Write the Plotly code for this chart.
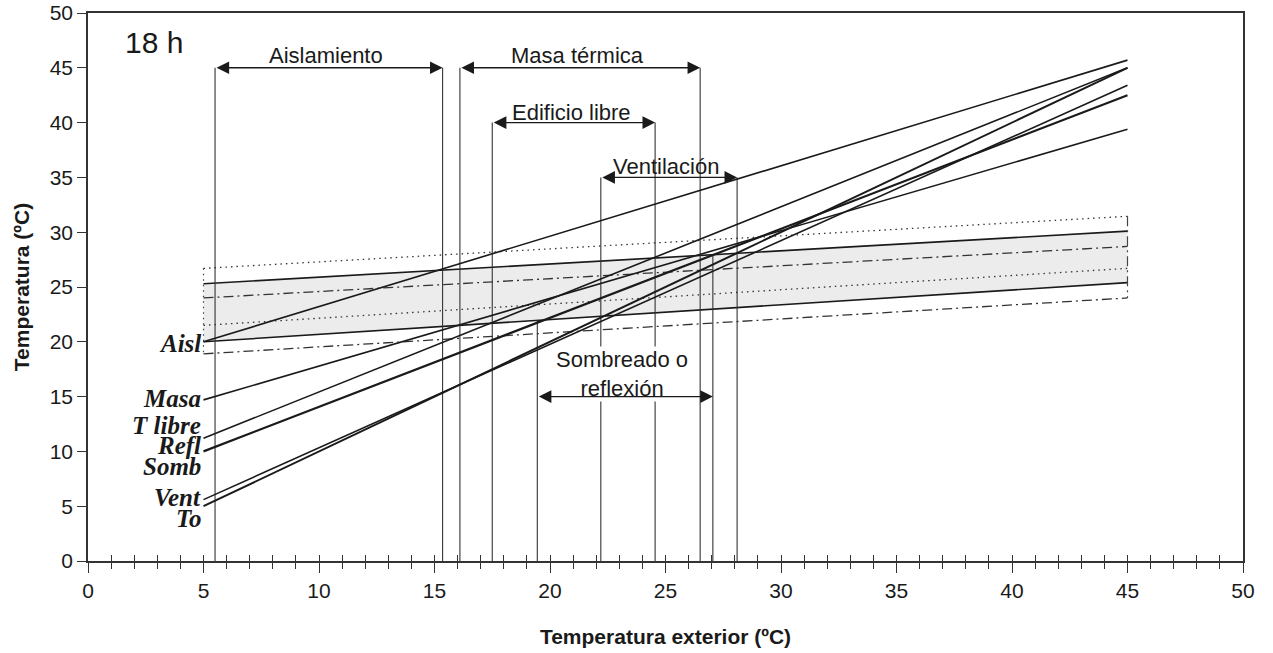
import plotly.graph_objects as go

# ---------------- data ----------------
x_ends = [5, 45]

strategy_names = ["Aisl", "Masa", "T libre", "Refl", "Vent", "To"]
strategy_y_start = [20.0, 14.7, 11.2, 10.0, 5.6, 5.0]
strategy_y_end = [45.7, 39.4, 45.0, 42.5, 43.4, 45.0]

side_labels = ["Aisl", "Masa", "T libre", "Refl", "Somb", "Vent", "To"]
side_label_y = [19.85, 14.85, 12.4, 10.55, 8.65, 5.75, 3.85]

upper_solid = [25.3, 30.1]
lower_solid = [20.0, 25.4]
upper_dot = [26.7, 31.45]
lower_dot = [21.5, 26.7]
upper_dashdot = [24.0, 28.7]
lower_dashdot = [18.9, 24.0]

range_names = ["Aislamiento", "Masa térmica", "Edificio libre", "Ventilación", "Sombreado o<br>reflexión"]
range_lo = [5.5, 16.1, 17.5, 22.2, 19.45]
range_hi = [15.35, 26.5, 24.55, 28.1, 27.05]
arrow_y = [45, 45, 40, 35, 15]
vline_top_lo = [45, 45, 40, 35, 22.0]
vline_top_hi = [45, 45, 40, 35, 27.9]
range_label_x = [10.3, 21.2, 20.95, 25.0, 23.1]
range_label_y = [46.15, 46.15, 40.9, 36.0, 17.1]

title_text = "18 h"
x_ticks = list(range(0, 51, 5))
y_ticks = list(range(0, 51, 5))

# ---------------- figure ----------------
fig = go.Figure()
INK = "#1a1a1a"
DOT = "1.5px,4px"
DASHDOT = "10px,4px,2px,4px"

# comfort band fill
fig.add_trace(go.Scatter(x=x_ends, y=lower_solid, mode="lines",
                         line=dict(color=INK, width=1.6), hoverinfo="skip", showlegend=False))
fig.add_trace(go.Scatter(x=x_ends, y=upper_solid, mode="lines", fill="tonexty",
                         fillcolor="#ececec",
                         line=dict(color=INK, width=1.6), hoverinfo="skip", showlegend=False))
for ys, dash in [(upper_dot, DOT), (lower_dot, DOT),
                 (upper_dashdot, DASHDOT), (lower_dashdot, DASHDOT)]:
    fig.add_trace(go.Scatter(x=x_ends, y=ys, mode="lines",
                             line=dict(color="#333333", width=1.3, dash=dash),
                             hoverinfo="skip", showlegend=False))
# band end closures
fig.add_trace(go.Scatter(x=[x_ends[0], x_ends[0]], y=[upper_dot[0], lower_dashdot[0]], mode="lines",
                         line=dict(color="#444444", width=1.2, dash=DOT),
                         hoverinfo="skip", showlegend=False))
fig.add_trace(go.Scatter(x=[x_ends[1], x_ends[1]], y=[upper_dot[1], lower_dashdot[1]], mode="lines",
                         line=dict(color="#444444", width=1.2, dash=DASHDOT),
                         hoverinfo="skip", showlegend=False))

# vertical range markers
for lo, hi, tlo, thi in zip(range_lo, range_hi, vline_top_lo, vline_top_hi):
    fig.add_trace(go.Scatter(x=[lo, lo], y=[0, tlo], mode="lines",
                             line=dict(color="#333333", width=1.1), hoverinfo="skip", showlegend=False))
    fig.add_trace(go.Scatter(x=[hi, hi], y=[0, thi], mode="lines",
                             line=dict(color="#333333", width=1.1), hoverinfo="skip", showlegend=False))

# strategy lines
widths = {"Refl": 2.2, "To": 2.0}
for name, y0, y1 in zip(strategy_names, strategy_y_start, strategy_y_end):
    fig.add_trace(go.Scatter(x=x_ends, y=[y0, y1], mode="lines", name=name,
                             line=dict(color=INK, width=widths.get(name, 1.6)),
                             hoverinfo="skip", showlegend=False))

# dummy trace for inner-tick axis
fig.add_trace(go.Scatter(x=[None], y=[None], xaxis="x2", yaxis="y", mode="lines",
                         hoverinfo="skip", showlegend=False))

# range labels (first) then arrows on top
for name, lx, ly in zip(range_names, range_label_x, range_label_y):
    is_multi = "<br>" in name
    fig.add_annotation(x=lx, y=ly, xref="x", yref="y", text=name, showarrow=False,
                       font=dict(family="Liberation Sans, Arial", size=22, color=INK),
                       bgcolor="white" if is_multi else "rgba(0,0,0,0)",
                       borderpad=0, yanchor="middle", xanchor="center")
for lo, hi, ay in zip(range_lo, range_hi, arrow_y):
    fig.add_annotation(x=hi, y=ay, ax=lo, ay=ay, xref="x", yref="y", axref="x", ayref="y",
                       text="", showarrow=True, arrowhead=2, arrowside="end+start",
                       arrowsize=1.8, arrowwidth=1.4, arrowcolor=INK, standoff=0, startstandoff=0)

# side labels
for lab, ly in zip(side_labels, side_label_y):
    fig.add_annotation(x=x_ends[0], y=ly, xref="x", yref="y", text="<b><i>%s</i></b>" % lab,
                       showarrow=False, xanchor="right", yanchor="middle", xshift=-1,
                       font=dict(family="Liberation Serif, Times New Roman", size=25, color=INK))

# 18 h
fig.add_annotation(x=1.5, y=47.3, xref="x", yref="y", text=title_text, showarrow=False,
                   xanchor="left", yanchor="middle",
                   font=dict(family="Liberation Sans, Arial", size=30, color=INK))

axis_font = dict(family="Liberation Sans, Arial", size=21, color=INK)
fig.update_layout(
    width=1273, height=653,
    margin=dict(l=88, r=30, t=13, b=92, autoexpand=False),
    paper_bgcolor="white", plot_bgcolor="white",
    xaxis=dict(range=[0, 50], tickvals=x_ticks, ticks="outside", ticklen=10, tickwidth=1.3,
               tickcolor="#333333", automargin=False,
               minor=dict(ticks="outside", dtick=1, ticklen=6, tickwidth=1.2, tickcolor="#333333"),
               showline=True, linecolor="#333333", linewidth=1.6, mirror=True,
               showgrid=False, zeroline=False, tickfont=axis_font,
               title=dict(text="<b>Temperatura exterior (ºC)</b>",
                          font=dict(family="Liberation Sans, Arial", size=21, color=INK),
                          standoff=28)),
    xaxis2=dict(range=[0, 50], overlaying="x", anchor="y", side="bottom", dtick=1, tick0=0,
                ticks="inside", ticklen=6, tickwidth=1.2, tickcolor="#333333", automargin=False,
                showticklabels=False, showline=False, showgrid=False, zeroline=False),
    yaxis=dict(range=[0, 50], tickvals=y_ticks, ticks="outside", ticklen=9, tickwidth=1.3,
               tickcolor="#333333", automargin=False,
               showline=True, linecolor="#333333", linewidth=1.6, mirror=True,
               showgrid=False, zeroline=False, tickfont=axis_font,
               title=dict(text="<b>Temperatura (ºC)</b>",
                          font=dict(family="Liberation Sans, Arial", size=21, color=INK),
                          standoff=14)),
)

fig.write_html("out.html")
